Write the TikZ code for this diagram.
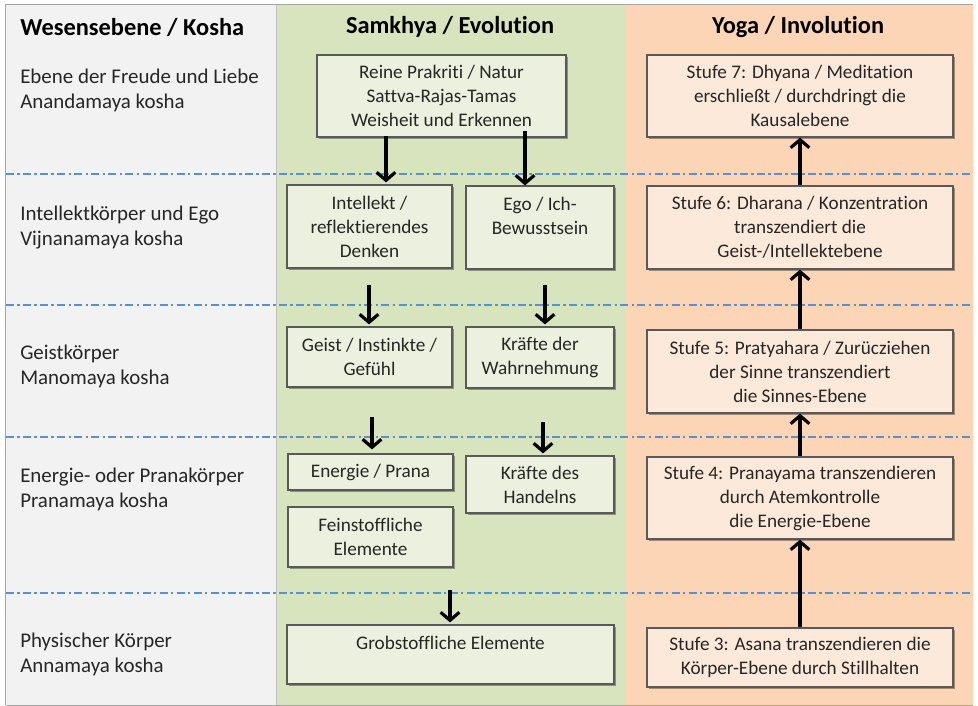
\documentclass[tikz,border=0pt]{standalone}
\usepackage{fontspec}
\setmainfont{Carlito}[Ligatures=NoCommon]
\usetikzlibrary{arrows.meta,shadows}
\definecolor{colgrey}{HTML}{F2F2F2}
\definecolor{colgreen}{HTML}{D7E4BD}
\definecolor{colorange}{HTML}{FBD5B5}
\definecolor{boxgreen}{HTML}{EBF1DE}
\definecolor{boxorange}{HTML}{FDE9D9}
\definecolor{boxline}{HTML}{595959}
\definecolor{dashblue}{HTML}{5B8FD0}
\definecolor{frameline}{HTML}{A6A6A6}
\definecolor{txt}{HTML}{262626}
\tikzset{
  txtfont/.style={font=\fontsize{14.4}{18}\selectfont, text=txt},
  titlefont/.style={font=\fontsize{18.3}{20}\selectfont\bfseries, text=black},
  levellabel/.style={text=txt, font=\fontsize{15.7}{18.7}\selectfont, anchor=west, align=left, inner sep=0pt},
  coltitle/.style={titlefont, inner sep=0pt},
  box/.style={draw=boxline, line width=0.9pt, inner sep=0pt, align=center, txtfont,
    drop shadow={shadow xshift=1.6pt, shadow yshift=-1.6pt, fill=black, opacity=0.35}},
  gbox/.style={box, fill=boxgreen},
  obox/.style={box, fill=boxorange},
  sz/.style 2 args={minimum width=#1*0.75pt, minimum height=#2*0.75pt},
  arr/.style={draw=black, line width=2.8pt, -{Straight Barb[length=6pt,width=14pt,line width=2.4pt]}},
  levelline/.style={draw=dashblue, line width=1.6pt, dash pattern=on 6pt off 2.5pt on 1.8pt off 2.5pt}
}
\begin{document}
\begin{tikzpicture}[x=0.75pt,y=-0.75pt]
\useasboundingbox (0,0) rectangle (978,706);
% columns
\fill[colgrey] (6,5) rectangle (276,705);
\fill[colgreen] (276,5) rectangle (626,705);
\fill[colorange] (626,5) rectangle (973,705);
\draw[frameline, line width=1.2pt] (5.5,705) -- (5.5,4.5) -- (973,4.5);
\draw[frameline, line width=0.6pt] (5.5,705) -- (973,705);
\draw[frameline!70, line width=0.6pt] (276,5) -- (276,705);
% level separators
\foreach \yy in {174,305,437,593} {
  \draw[levelline] (6,\yy) -- (973,\yy);
}
% titles
\node[coltitle, anchor=west] (t1) at (20,27) {Wesensebene / Kosha};
\node[coltitle] (t2) at (450,27) {Samkhya / Evolution};
\node[coltitle] (t3) at (798,27) {Yoga / Involution};
% level labels
\node[levellabel] (l1) at (20,90.5) {Ebene der Freude und Liebe\\Anandamaya kosha};
\node[levellabel] (l2) at (20,227.5) {Intellektkörper und Ego\\Vijnanamaya kosha};
\node[levellabel] (l3) at (20,366) {Geistkörper\\Manomaya kosha};
\node[levellabel] (l4) at (20,489.5) {Energie- oder Pranakörper\\Pranamaya kosha};
\node[levellabel] (l5) at (20,654) {Physischer Körper\\Annamaya kosha};
% Samkhya boxes
\node[gbox, sz={249}{82}] (p1) at (441.5,96) {Reine Prakriti / Natur\\Sattva-Rajas-Tamas\\Weisheit und Erkennen};
\node[gbox, sz={165}{83}] (intel) at (369.5,226.5) {Intellekt /\\reflektierendes\\Denken};
\node[gbox, sz={148}{83}] (ego) at (540,227.5) {Ego / Ich-\\Bewusstsein\\\mbox{}};
\node[gbox, sz={165}{60}] (geist) at (369.5,357) {Geist / Instinkte /\\Gefühl};
\node[gbox, sz={148}{61}] (wahr) at (540,357.5) {Kräfte der\\Wahrnehmung};
\node[gbox, sz={165}{36}] (energ) at (370.5,472) {Energie / Prana};
\node[gbox, sz={148}{57}] (handeln) at (540,484.5) {Kräfte des\\Handelns};
\node[gbox, sz={165}{60}] (fein) at (370.5,537) {Feinstoffliche\\Elemente};
\node[gbox, sz={327}{59}] (grob) at (450.5,654.5) {Grobstoffliche Elemente\\\mbox{}};
% Yoga boxes
\node[obox, sz={306}{82}] (s7) at (800,96) {Stufe 7: Dhyana / Meditation\\erschließt / durchdringt die\\Kausalebene};
\node[obox, sz={306}{83}] (s6) at (800,227.5) {Stufe 6: Dharana / Konzentration\\transzendiert die\\Geist-/Intellektebene};
\node[obox, sz={306}{83}] (s5) at (800,371.5) {Stufe 5: Pratyahara / Zurücziehen\\der Sinne transzendiert\\die Sinnes-Ebene};
\node[obox, sz={306}{82}] (s4) at (800,498) {Stufe 4: Pranayama transzendieren\\durch Atemkontrolle\\die Energie-Ebene};
\node[obox, sz={306}{59}] (s3) at (800,657.5) {Stufe 3: Asana transzendieren die\\Körper-Ebene durch Stillhalten};
% Samkhya arrows (evolution, downward)
\coordinate (a1) at (386,136);
\coordinate (a2) at (525,131);
\coordinate (a3) at (369,285);
\coordinate (a4) at (545,285);
\coordinate (a5) at (372,417);
\coordinate (a6) at (543,422);
\coordinate (a7) at (450,590);
\draw[arr] (a1) -- ([yshift=1.5pt]a1 |- intel.north);
\draw[arr] (a2) -- (a2 |- ego.north);
\draw[arr] (a3) -- ([yshift=1.5pt]a3 |- geist.north);
\draw[arr] (a4) -- ([yshift=1.5pt]a4 |- wahr.north);
\draw[arr] (a5) -- ([yshift=3pt]a5 |- energ.north);
\draw[arr] (a6) -- ([yshift=1.5pt]a6 |- handeln.north);
\draw[arr] (a7) -- ([yshift=1.5pt]a7 |- grob.north);
% Yoga arrows (involution, upward)
\draw[arr] (s6.north) -- (s7.south);
\draw[arr] (s5.north) -- (s6.south);
\draw[arr] (s4.north) -- (s5.south);
\draw[arr] (s3.north) -- (s4.south);
\end{tikzpicture}
\end{document}
